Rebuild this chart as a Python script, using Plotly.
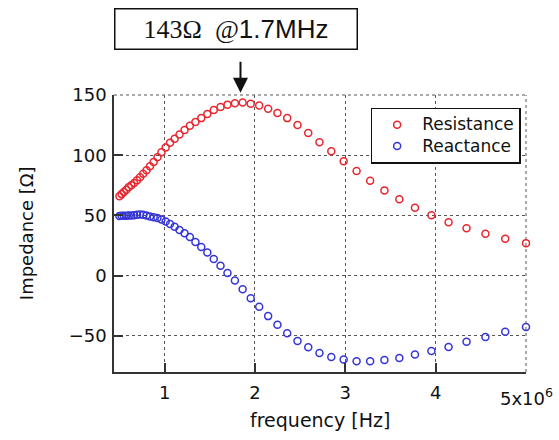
import numpy as np
import plotly.graph_objects as go

# ---- data ----
freq_mhz = [0.500, 0.524, 0.549, 0.576, 0.603, 0.632, 0.663, 0.695, 0.728, 0.763,
            0.800, 0.838, 0.879, 0.921, 0.965, 1.012, 1.060, 1.111, 1.165, 1.221,
            1.280, 1.341, 1.406, 1.473, 1.544, 1.619, 1.696, 1.778, 1.864, 1.953,
            2.047, 2.146, 2.249, 2.357, 2.471, 2.590, 2.714, 2.845, 2.982, 3.125,
            3.275, 3.433, 3.598, 3.771, 3.953, 4.143, 4.342, 4.551, 4.770, 5.000]

resistance = [66.0, 67.7, 69.4, 71.3, 73.5, 75.0, 77.0, 79.2, 81.8, 84.6,
              87.6, 90.8, 94.3, 98.3, 102.4, 106.4, 110.3, 113.7, 117.2, 120.9,
              124.5, 127.6, 130.8, 134.2, 137.6, 140.0, 142.0, 143.2, 143.8, 142.7,
              141.3, 138.6, 135.0, 130.8, 125.0, 118.4, 110.8, 103.3, 95.0, 86.8,
              78.8, 70.8, 63.4, 56.4, 50.2, 44.4, 39.4, 34.7, 30.6, 27.0]

reactance = [49.6, 49.7, 49.7, 49.8, 49.9, 50.0, 50.2, 50.5, 50.7, 50.6,
             50.0, 49.2, 48.5, 47.8, 46.7, 45.0, 42.8, 40.7, 38.0, 35.3,
             32.0, 27.9, 23.7, 19.3, 13.8, 8.3, 2.2, -4.1, -11.3, -18.8,
             -25.9, -33.6, -40.7, -47.9, -54.3, -59.5, -64.2, -67.5, -69.7, -71.1,
             -71.1, -70.0, -68.3, -65.5, -62.6, -59.3, -54.8, -51.0, -46.5, -42.7]

series_names = ["Resistance", "Reactance"]

x_tickvals_mhz = [1, 2, 3, 4, 5]
x_ticktext = ["1", "2", "3", "4", ""]
y_tickvals = [-50, 0, 50, 100, 150]
y_ticktext = ["\u221250", "0", "50", "100", "150"]

peak_label_freq_mhz = 1.84
peak_text = ('<span style="font-family:\'Liberation Serif\', serif;font-size:26px">143\u03a9&nbsp; @</span>'
             '<span style="font-size:26px">1.7MHz</span>')

freq_hz = np.array(freq_mhz) * 1e6

FONT = "DejaVu Sans"
RED = "#e8262e"
BLUE = "#3535d8"
GRID = "#555555"
INK = "#111111"

fig = go.Figure()
for name, vals, col in [(series_names[0], resistance, RED), (series_names[1], reactance, BLUE)]:
    fig.add_trace(go.Scatter(
        x=freq_hz, y=vals, mode="markers",
        name='<span style="font-size:17px">%s</span>' % name,
        marker=dict(symbol="circle-open", size=7, color=col, line=dict(width=1.5, color=col)),
        cliponaxis=False,
    ))

fig.update_layout(
    width=559, height=440,
    margin=dict(l=114, r=33, t=95, b=68, autoexpand=False),
    paper_bgcolor="white", plot_bgcolor="white",
    font=dict(family=FONT, size=18, color=INK),
    showlegend=True,
    legend=dict(
        x=0.987, y=0.954, xanchor="right", yanchor="top",
        bgcolor="white", bordercolor=INK, borderwidth=1.5,
        font=dict(family=FONT, size=14, color=INK),
        itemwidth=40, tracegroupgap=0,
    ),
)

fig.update_xaxes(
    range=[0.44e6, 5.0e6],
    tickmode="array", tickvals=[v * 1e6 for v in x_tickvals_mhz], ticktext=x_ticktext,
    ticks="inside", ticklen=9, tickwidth=1.5, tickcolor="#333333",
    showline=True, linecolor="#333333", linewidth=1.5,
    showgrid=True, gridcolor=GRID, gridwidth=1, griddash="dot",
    zeroline=False, mirror=False,
    tickfont=dict(family=FONT, size=18, color=INK),
    ticklabelstandoff=4,
)
fig.update_yaxes(
    range=[-80, 150],
    tickmode="array", tickvals=y_tickvals, ticktext=y_ticktext,
    ticks="inside", ticklen=9, tickwidth=1.5, tickcolor="#333333",
    showline=True, linecolor="#333333", linewidth=1.5,
    showgrid=True, gridcolor=GRID, gridwidth=1, griddash="dot",
    zeroline=False, mirror=False,
    tickfont=dict(family=FONT, size=18, color=INK),
    ticklabelstandoff=2,
)

# dotted top and right frame (gridlines at 150 and 5e6 coincide with the edges)
fig.add_shape(type="line", xref="paper", yref="paper", x0=0, x1=1, y0=1, y1=1,
              line=dict(color=GRID, width=1, dash="dot"), layer="below")
fig.add_shape(type="line", xref="paper", yref="paper", x0=1, x1=1, y0=0, y1=1,
              line=dict(color=GRID, width=1, dash="dot"), layer="below")

# axis titles
fig.add_annotation(text="Impedance [\u03a9]", xref="paper", yref="paper",
                   x=-0.212, y=0.5, xanchor="center", yanchor="middle",
                   textangle=-90, showarrow=False,
                   font=dict(family=FONT, size=18, color=INK))
fig.add_annotation(text="frequency [Hz]", xref="paper", yref="paper",
                   x=0.5, y=-0.173, xanchor="center", yanchor="middle",
                   showarrow=False,
                   font=dict(family=FONT, size=19, color=INK))
# exponent label
fig.add_annotation(text="5x10<sup>6</sup>", xref="x", yref="paper",
                   x=5.0e6, y=-0.04, xanchor="center", yanchor="top",
                   showarrow=False,
                   font=dict(family=FONT, size=18, color=INK))

# peak callout box
fig.add_annotation(text=peak_text, xref="paper", yref="paper",
                   x=0.2966, y=1.2386, xanchor="center", yanchor="middle",
                   showarrow=False, width=239, height=37,
                   bordercolor=INK, borderwidth=1.5, borderpad=1, bgcolor="white",
                   font=dict(family="Liberation Sans", size=26, color=INK))
# arrow
fig.add_annotation(text=" ", xref="x", yref="paper",
                   x=peak_label_freq_mhz * 1e6, y=1.008, ax=0, ay=-43,
                   showarrow=True, arrowhead=2, arrowsize=1.5, arrowwidth=2,
                   arrowcolor=INK, standoff=0)

fig.write_html("out.html", config={"displayModeBar": False},
               post_script="document.body.style.margin='0px';document.body.style.overflow='hidden';")
